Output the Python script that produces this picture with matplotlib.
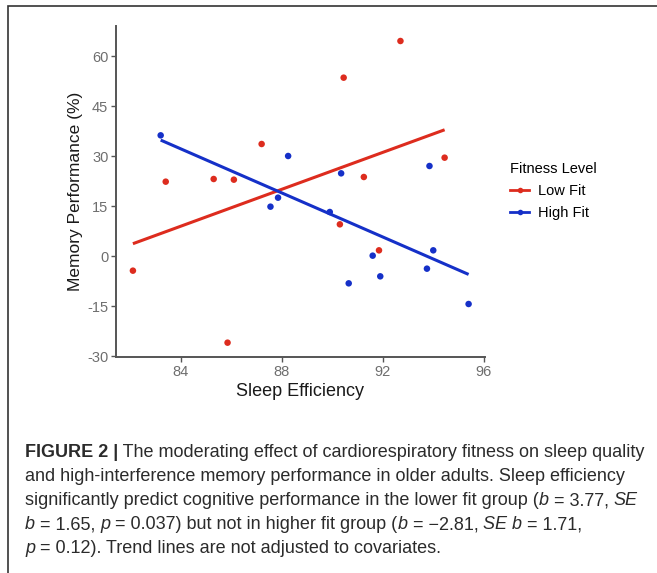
import matplotlib
matplotlib.use("Agg")
import matplotlib.pyplot as plt
import numpy as np
from matplotlib.patches import Rectangle
from matplotlib.lines import Line2D

# data
low_x = [82.1, 83.4, 85.3, 86.1, 87.2, 85.85, 90.45, 92.7, 91.25, 94.45, 90.3, 91.85]
low_y = [-4.4, 22.3, 23.1, 22.9, 33.6, -26.0, 53.5, 64.5, 23.7, 29.5, 9.5, 1.7]
high_x = [83.2, 87.55, 87.85, 88.25, 90.35, 93.85, 89.9, 91.6, 90.65, 91.9, 93.75, 94.0, 95.4]
high_y = [36.2, 14.8, 17.5, 30.0, 24.8, 27.0, 13.2, 0.1, -8.2, -6.1, -3.8, 1.7, -14.4]

x_ticks = [84, 88, 92, 96]
y_ticks = [-30, -15, 0, 15, 30, 45, 60]

red = '#dd2c1e'
blue = '#1530c8'

plt.rcParams['font.family'] = ['Liberation Sans', 'DejaVu Sans']
plt.rcParams['axes.unicode_minus'] = False

fig = plt.figure(figsize=(6.57, 5.73), dpi=100)
W, H = 657, 573

ax = fig.add_axes([116 / W, 1 - 357 / H, (485 - 116) / W, (357 - 26) / H])

# points + least squares trend line per group
for xs, ys, c in [(low_x, low_y, red), (high_x, high_y, blue)]:
    xs = np.array(xs)
    ys = np.array(ys)
    k, b = np.polyfit(xs, ys, 1)
    xx = np.array([xs.min(), xs.max()])
    ax.plot(xx, k * xx + b, color=c, lw=2.2, solid_capstyle='butt', zorder=2)
    ax.scatter(xs, ys, s=22, color=c, edgecolors='none', zorder=3)

ax.set_xlim(81.43, 96.05)
ax.set_ylim(-30.3, 69)
ax.set_xticks(x_ticks)
ax.set_yticks(y_ticks)
for s in ['top', 'right']:
    ax.spines[s].set_visible(False)
for s in ['left', 'bottom']:
    ax.spines[s].set_color('#555555')
    ax.spines[s].set_linewidth(1.4)
ax.tick_params(length=3.5, width=1.0, color='#555555', labelcolor='#6e6e6e', labelsize=10.5, pad=2)
ax.set_xlabel('Sleep Efficiency', fontsize=13, color='#1a1a1a', labelpad=3)
ax.set_ylabel('Memory Performance (%)', fontsize=12.5, color='#1a1a1a', labelpad=3)

handles = [Line2D([], [], color=red, lw=2, marker='o', ms=4, mec='none'),
           Line2D([], [], color=blue, lw=2, marker='o', ms=4, mec='none')]
leg = fig.legend(handles, ['Low Fit', 'High Fit'], title='Fitness Level',
                 loc='upper left', bbox_to_anchor=(497 / W, 1 - 149 / H),
                 frameon=False, fontsize=10.5, title_fontsize=10.5,
                 handlelength=1.3, handletextpad=0.6, labelspacing=0.55)
leg._legend_box.align = 'left'

# frame around the whole figure
fig.patches.append(Rectangle((7.5 / W, -0.1), 1.2, 1 - 6.5 / H + 0.1, transform=fig.transFigure,
                             fill=False, ec='#333333', lw=1.2))

# caption with mixed styles
caption = [
    [('FIGURE 2 |', 'bold'), (' The moderating effect of cardiorespiratory fitness on sleep quality', 'normal')],
    [('and high-interference memory performance in older adults. Sleep efficiency', 'normal')],
    [('significantly predict cognitive performance in the lower fit group (', 'normal'), ('b', 'italic'),
     (' = 3.77, ', 'normal'), ('SE', 'italic')],
    [('b', 'italic'), (' = 1.65, ', 'normal'), ('p', 'italic'), (' = 0.037) but not in higher fit group (', 'normal'),
     ('b', 'italic'), (' = \u22122.81, ', 'normal'), ('SE b', 'italic'), (' = 1.71,', 'normal')],
    [('p', 'italic'), (' = 0.12). Trend lines are not adjusted to covariates.', 'normal')],
]
renderer = fig.canvas.get_renderer()
cap_size = 13.0
for i, line in enumerate(caption):
    x = 25
    yb = 457 + 24 * i
    for txt, st in line:
        t = fig.text(x / W, 1 - yb / H, txt, fontsize=cap_size, color='#2b2b2b', va='baseline',
                     fontweight='bold' if st == 'bold' else 'normal',
                     fontstyle='italic' if st == 'italic' else 'normal')
        x += t.get_window_extent(renderer).width

fig.savefig('out.png', dpi=100)
